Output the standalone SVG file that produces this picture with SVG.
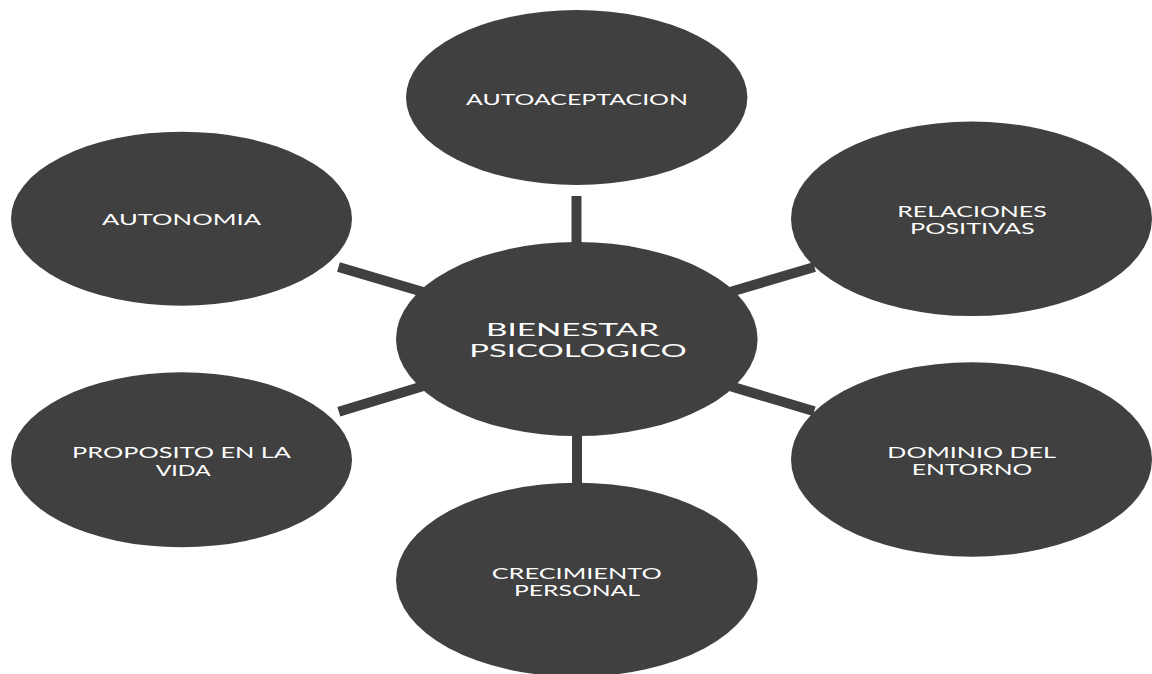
<svg xmlns="http://www.w3.org/2000/svg" width="1152" height="674" viewBox="0 0 1152 674">
<style>
.node{fill:#404040;}
.lbl{fill:#ffffff;font-family:Lato,"Open Sans","Liberation Sans",sans-serif;font-size:15px;}
.big{font-size:18px;}
.conn{stroke:#404040;stroke-width:10;fill:none;stroke-linecap:butt;}
</style>
<rect width="1152" height="674" fill="#ffffff"/>
<g id="connectors">
<line class="conn" x1="576.5" y1="196" x2="576.5" y2="260"/>
<line class="conn" x1="577" y1="420" x2="577" y2="500"/>
<line class="conn" x1="338.5" y1="267" x2="440" y2="297"/>
<line class="conn" x1="814.5" y1="267" x2="713" y2="297"/>
<line class="conn" x1="338.8" y1="411.7" x2="440" y2="381"/>
<line class="conn" x1="814.2" y1="411.2" x2="713" y2="381"/>
</g>
<g id="node-autoaceptacion">
<ellipse class="node" cx="576.7" cy="97.5" rx="170.7" ry="87.5"/>
<text class="lbl" x="466" y="105" textLength="222" lengthAdjust="spacingAndGlyphs">AUTOACEPTACION</text>
</g>
<g id="node-autonomia">
<ellipse class="node" cx="181.5" cy="218.7" rx="170.5" ry="87"/>
<text class="lbl" x="102" y="225.3" textLength="159" lengthAdjust="spacingAndGlyphs">AUTONOMIA</text>
</g>
<g id="node-relaciones">
<ellipse class="node" cx="971.5" cy="218.8" rx="180.5" ry="97.2"/>
<text class="lbl" x="897.3" y="216.7" textLength="149.4" lengthAdjust="spacingAndGlyphs">RELACIONES</text>
<text class="lbl" x="910" y="234" textLength="124.7" lengthAdjust="spacingAndGlyphs">POSITIVAS</text>
</g>
<g id="node-proposito">
<ellipse class="node" cx="181.5" cy="459.8" rx="170.5" ry="87.5"/>
<text class="lbl" x="72" y="457.7" textLength="219" lengthAdjust="spacingAndGlyphs">PROPOSITO EN LA</text>
<text class="lbl" x="155.7" y="476" textLength="55" lengthAdjust="spacingAndGlyphs">VIDA</text>
</g>
<g id="node-dominio">
<ellipse class="node" cx="971.5" cy="459.5" rx="180.5" ry="97.2"/>
<text class="lbl" x="887.3" y="457.7" textLength="168.7" lengthAdjust="spacingAndGlyphs">DOMINIO DEL</text>
<text class="lbl" x="911.7" y="475" textLength="120.6" lengthAdjust="spacingAndGlyphs">ENTORNO</text>
</g>
<g id="node-crecimiento">
<ellipse class="node" cx="576.8" cy="579.7" rx="180.8" ry="97"/>
<text class="lbl" x="491.7" y="578.7" textLength="170" lengthAdjust="spacingAndGlyphs">CRECIMIENTO</text>
<text class="lbl" x="514" y="595.7" textLength="126" lengthAdjust="spacingAndGlyphs">PERSONAL</text>
</g>
<g id="node-bienestar">
<ellipse class="node" cx="576.8" cy="339" rx="180.8" ry="97"/>
<text class="lbl big" x="486" y="336" textLength="173" lengthAdjust="spacingAndGlyphs">BIENESTAR</text>
<text class="lbl big" x="469.3" y="356.7" textLength="217.4" lengthAdjust="spacingAndGlyphs">PSICOLOGICO</text>
</g>
</svg>
